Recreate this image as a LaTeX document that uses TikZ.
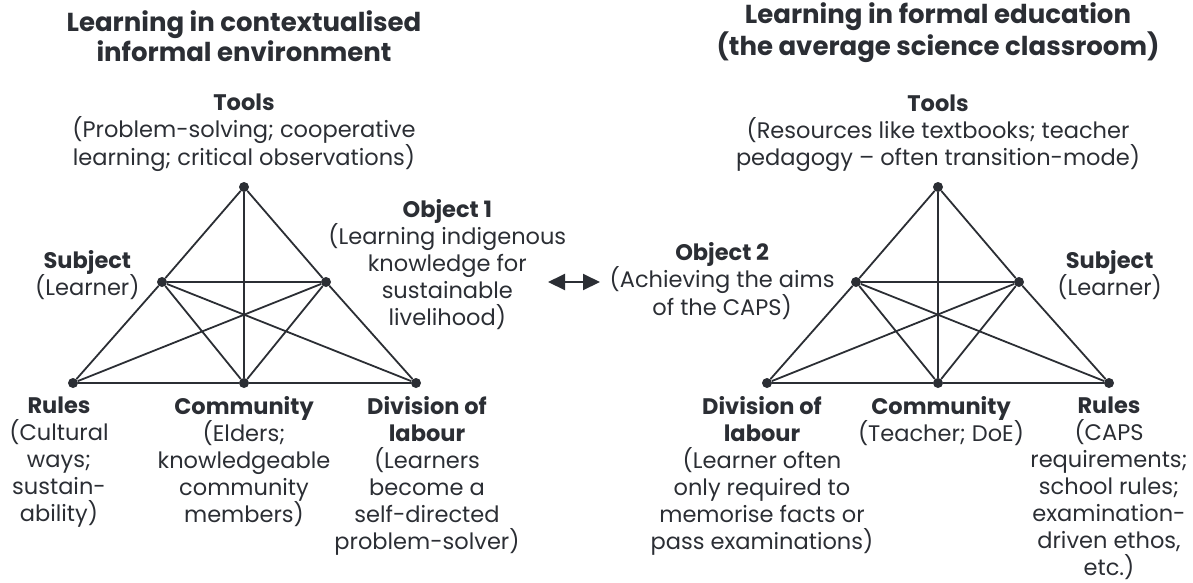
\documentclass[tikz,border=0pt]{standalone}
\usepackage{fontspec}
\setmainfont{Poppins}
\usetikzlibrary{
    positioning, % posicionamento relativo dos rótulos
    arrows.meta  % ponta da seta dupla
}
\definecolor{ink}{HTML}{2B2E34}

\begin{document}
\begin{tikzpicture}[x=1pt, y=-1pt, node distance=8pt, text=ink,
                    font=\fontsize{22.5}{27}\selectfont]

    % --- Estilos ---
    \tikzset{
        dot/.style={circle, fill=ink, inner sep=0pt, minimum size=10pt},
        edge/.style={draw=ink, line width=1.8pt},
        label_text/.style={align=center, inner sep=0pt},
        title_text/.style={align=center, inner sep=0pt,
                           font=\fontsize{26}{30}\selectfont\bfseries},
        swap_arrow/.style={{Triangle[length=17pt,width=16pt]}-{Triangle[length=17pt,width=16pt]},
                           draw=ink, line width=2pt}
    }

    \useasboundingbox (0,0) rectangle (1193,582);

    % --- Vértices: ambiente informal ---
    \node[dot] (toolsA) at (244,187) {};
    \node[dot] (subjA)  at (162,282) {};
    \node[dot] (objA)   at (326,282) {};
    \node[dot] (rulesA) at (73,383)  {};
    \node[dot] (commA)  at (244,383) {};
    \node[dot] (divA)   at (416,383) {};

    % --- Vértices: educação formal ---
    \node[dot] (toolsB) at (938,187)  {};
    \node[dot] (objB)   at (856,282)  {};
    \node[dot] (subjB)  at (1019,282) {};
    \node[dot] (divB)   at (767,383)  {};
    \node[dot] (commB)  at (938,383)  {};
    \node[dot] (rulesB) at (1109,383) {};

    % --- Ligações (mesma topologia nos dois triângulos) ---
    \foreach \s in {A,B} {
        \foreach \a/\b in {tools/subj, tools/obj, tools/comm, subj/rules, obj/div,
                           rules/comm, comm/div, subj/obj, subj/comm, subj/div,
                           obj/comm, obj/rules} {
            \draw[edge] (\a\s) -- (\b\s);
        }
    }

    % --- Rótulos: ambiente informal ---
    \node[label_text, above=10pt of toolsA] (toolsA_txt)
        {\textbf{Tools}\\(Problem-solving; cooperative\\learning; critical observations)};
    \node[title_text, above=32pt of toolsA_txt] (titleA)
        {Learning in contextualised\\informal environment};
    \node[label_text, left=17pt of subjA, yshift=7pt] (subjA_txt)
        {\textbf{Subject}\\(Learner)};
    \node[label_text, right=-3pt of objA, yshift=17pt] (objA_txt)
        {\textbf{Object 1}\\(Learning indigenous\\knowledge for\\sustainable\\livelihood)};
    \node[label_text, below=of rulesA, xshift=-14pt] (rulesA_txt)
        {\textbf{Rules}\\(Cultural\\ways;\\sustain-\\ability)};
    \node[label_text, below=of commA] (commA_txt)
        {\textbf{Community}\\(Elders;\\knowledgeable\\community\\members)};
    \node[label_text, below=of divA, xshift=11pt] (divA_txt)
        {\textbf{Division of}\\\textbf{labour}\\(Learners\\become a\\self-directed\\problem-solver)};

    % --- Rótulos: educação formal ---
    \node[label_text, above=10pt of toolsB] (toolsB_txt)
        {\textbf{Tools}\\(Resources like textbooks; teacher\\pedagogy -- often transition-mode)};
    \node[title_text, above=32pt of toolsB_txt] (titleB)
        {Learning in formal education\\(the average science classroom)};
    \node[label_text, left=16pt of objB, yshift=1pt] (objB_txt)
        {\textbf{Object 2}\\(Achieving the aims\\of the CAPS)};
    \node[label_text, right=33pt of subjB, yshift=7pt] (subjB_txt)
        {\textbf{Subject}\\(Learner)};
    \node[label_text, below=of divB, xshift=-5pt] (divB_txt)
        {\textbf{Division of}\\\textbf{labour}\\(Learner often\\only required to\\memorise facts or\\pass examinations)};
    \node[label_text, below=of commB, xshift=3pt] (commB_txt)
        {\textbf{Community}\\(Teacher; DoE)};
    \node[label_text, below=of rulesB] (rulesB_txt)
        {\textbf{Rules}\\(CAPS\\requirements;\\school rules;\\examination-\\driven ethos,\\etc.)};

    % --- Seta entre os dois sistemas ---
    \coordinate (arrL) at (548,282);
    \coordinate (arrR) at (600,282);
    \draw[swap_arrow] (arrL) -- (arrR);

\end{tikzpicture}
\end{document}
